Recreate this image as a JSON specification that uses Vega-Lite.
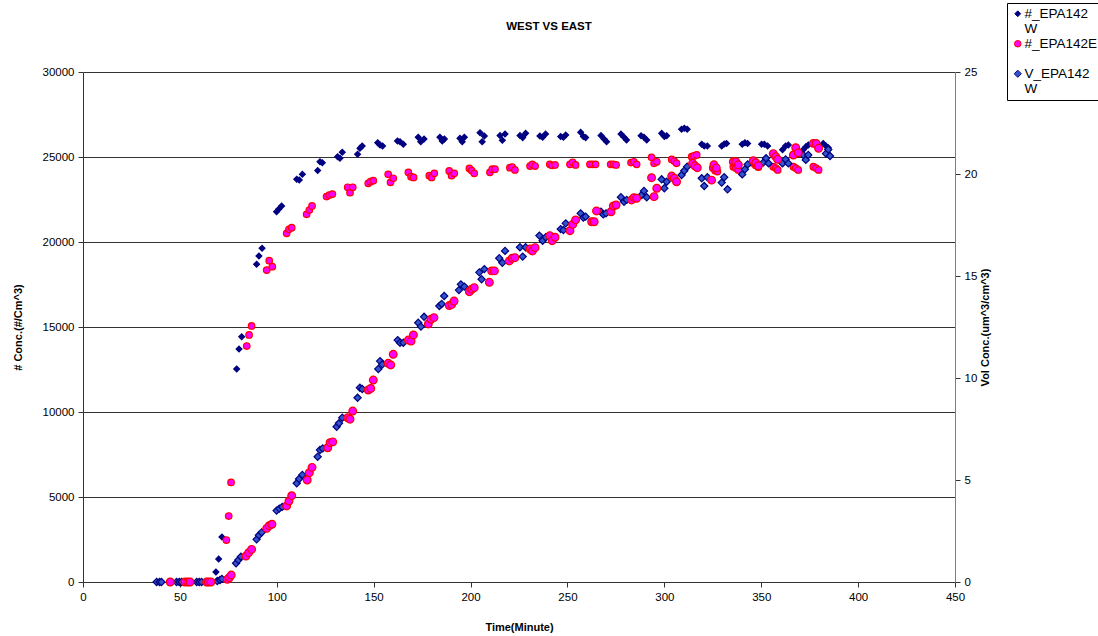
{
  "$schema": "https://vega.github.io/schema/vega-lite/v6.json",
  "autosize": {"type": "none"},
  "padding": {"left": 83, "top": 72, "right": 143, "bottom": 54},
  "width": 872,
  "height": 510,
  "background": "white",
  "title": {"text": "WEST VS EAST", "fontSize": 11.5, "fontWeight": "bold", "font": "Liberation Sans", "dx": 30, "offset": -30, "frame": "group", "color": "#000"},
  "config": {
    "view": {"stroke": null},
    "font": "Liberation Sans",
    "axis": {"labelFont": "Liberation Sans", "labelFontSize": 11.5, "labelColor": "#000", "labelFlush": false, "titleFont": "Liberation Sans", "titleFontSize": 11, "titleFontWeight": "bold", "titleColor": "#000", "domainColor": "#333", "tickColor": "#333", "tickSize": 5, "gridColor": "#333", "gridOpacity": 1},
    "legend": {"orient": "none", "legendX": 924, "legendY": -69, "title": null, "strokeColor": "#000", "strokeWidth": 1, "fillColor": "#fff", "padding": 4, "labelFont": "Liberation Sans", "labelFontSize": 13.5, "labelColor": "#000", "labelLimit": 0, "labelOffset": 0, "rowPadding": 0, "symbolStrokeWidth": 1, "symbolOpacity": 1}
  },
  "datasets": {
    "num": [
      {"t":38,"v":0,"s":"#_EPA142W"},{"t":39.5,"v":0,"s":"#_EPA142W"},{"t":40.5,"v":0,"s":"#_EPA142W"},
      {"t":48.3,"v":0,"s":"#_EPA142W"},{"t":49.7,"v":0,"s":"#_EPA142W"},{"t":50.9,"v":0,"s":"#_EPA142W"},
      {"t":58.7,"v":0,"s":"#_EPA142W"},{"t":60,"v":0,"s":"#_EPA142W"},{"t":61.2,"v":0,"s":"#_EPA142W"},
      {"t":68.6,"v":590,"s":"#_EPA142W"},{"t":70,"v":1350,"s":"#_EPA142W"},{"t":71.7,"v":2650,"s":"#_EPA142W"},
      {"t":79.3,"v":12530,"s":"#_EPA142W"},{"t":80.5,"v":13700,"s":"#_EPA142W"},{"t":81.9,"v":14430,"s":"#_EPA142W"},
      {"t":89.6,"v":18690,"s":"#_EPA142W"},{"t":90.8,"v":19180,"s":"#_EPA142W"},{"t":92.4,"v":19630,"s":"#_EPA142W"},
      {"t":99.9,"v":21780,"s":"#_EPA142W"},{"t":101.1,"v":21940,"s":"#_EPA142W"},{"t":102.5,"v":22120,"s":"#_EPA142W"},
      {"t":110.3,"v":23690,"s":"#_EPA142W"},{"t":111.6,"v":23650,"s":"#_EPA142W"},{"t":113.2,"v":23980,"s":"#_EPA142W"},
      {"t":121.1,"v":24200,"s":"#_EPA142W"},{"t":122.3,"v":24720,"s":"#_EPA142W"},{"t":123.5,"v":24660,"s":"#_EPA142W"},
      {"t":131.4,"v":25020,"s":"#_EPA142W"},{"t":132.6,"v":24920,"s":"#_EPA142W"},{"t":133.8,"v":25280,"s":"#_EPA142W"},
      {"t":141.7,"v":25160,"s":"#_EPA142W"},{"t":142.9,"v":25510,"s":"#_EPA142W"},{"t":144.1,"v":25650,"s":"#_EPA142W"},
      {"t":152.1,"v":25840,"s":"#_EPA142W"},{"t":153.3,"v":25710,"s":"#_EPA142W"},{"t":154.6,"v":25650,"s":"#_EPA142W"},
      {"t":162.3,"v":25940,"s":"#_EPA142W"},{"t":163.6,"v":25900,"s":"#_EPA142W"},{"t":165.3,"v":25750,"s":"#_EPA142W"},
      {"t":173,"v":26160,"s":"#_EPA142W"},{"t":174.3,"v":25900,"s":"#_EPA142W"},{"t":176,"v":26060,"s":"#_EPA142W"},
      {"t":184.2,"v":26160,"s":"#_EPA142W"},{"t":185.4,"v":25940,"s":"#_EPA142W"},{"t":186.5,"v":26060,"s":"#_EPA142W"},
      {"t":194.5,"v":26100,"s":"#_EPA142W"},{"t":195.7,"v":25900,"s":"#_EPA142W"},{"t":196.8,"v":26160,"s":"#_EPA142W"},
      {"t":204.9,"v":26430,"s":"#_EPA142W"},{"t":206,"v":25900,"s":"#_EPA142W"},{"t":207.1,"v":26240,"s":"#_EPA142W"},
      {"t":215.2,"v":26260,"s":"#_EPA142W"},{"t":216.4,"v":25980,"s":"#_EPA142W"},{"t":217.8,"v":26350,"s":"#_EPA142W"},
      {"t":225.5,"v":26260,"s":"#_EPA142W"},{"t":226.9,"v":26140,"s":"#_EPA142W"},{"t":228.4,"v":26390,"s":"#_EPA142W"},
      {"t":235.8,"v":26240,"s":"#_EPA142W"},{"t":237.2,"v":26160,"s":"#_EPA142W"},{"t":238.7,"v":26350,"s":"#_EPA142W"},
      {"t":246.5,"v":26200,"s":"#_EPA142W"},{"t":247.9,"v":26160,"s":"#_EPA142W"},{"t":249.1,"v":26290,"s":"#_EPA142W"},
      {"t":256.8,"v":26450,"s":"#_EPA142W"},{"t":258.2,"v":26200,"s":"#_EPA142W"},{"t":259.4,"v":26140,"s":"#_EPA142W"},
      {"t":267.3,"v":26260,"s":"#_EPA142W"},{"t":268.9,"v":26060,"s":"#_EPA142W"},{"t":270.2,"v":25900,"s":"#_EPA142W"},
      {"t":277.6,"v":26350,"s":"#_EPA142W"},{"t":279.2,"v":26160,"s":"#_EPA142W"},{"t":280.5,"v":26000,"s":"#_EPA142W"},
      {"t":288,"v":26250,"s":"#_EPA142W"},{"t":289.5,"v":26160,"s":"#_EPA142W"},{"t":290.9,"v":26000,"s":"#_EPA142W"},
      {"t":298.6,"v":26390,"s":"#_EPA142W"},{"t":300,"v":26200,"s":"#_EPA142W"},{"t":301.2,"v":26250,"s":"#_EPA142W"},
      {"t":308.9,"v":26630,"s":"#_EPA142W"},{"t":310.3,"v":26690,"s":"#_EPA142W"},{"t":311.8,"v":26630,"s":"#_EPA142W"},
      {"t":319.3,"v":25750,"s":"#_EPA142W"},{"t":320.6,"v":25650,"s":"#_EPA142W"},{"t":322.2,"v":25650,"s":"#_EPA142W"},
      {"t":329.6,"v":25650,"s":"#_EPA142W"},{"t":330.9,"v":25760,"s":"#_EPA142W"},{"t":332.1,"v":25800,"s":"#_EPA142W"},
      {"t":340.2,"v":25750,"s":"#_EPA142W"},{"t":341.6,"v":25840,"s":"#_EPA142W"},{"t":343,"v":25800,"s":"#_EPA142W"},
      {"t":350.2,"v":25750,"s":"#_EPA142W"},{"t":351.6,"v":25750,"s":"#_EPA142W"},{"t":353.3,"v":25650,"s":"#_EPA142W"},
      {"t":361,"v":25430,"s":"#_EPA142W"},{"t":362.6,"v":25650,"s":"#_EPA142W"},{"t":364,"v":25710,"s":"#_EPA142W"},
      {"t":371.7,"v":25430,"s":"#_EPA142W"},{"t":373,"v":25600,"s":"#_EPA142W"},{"t":374.3,"v":25710,"s":"#_EPA142W"},
      {"t":382,"v":25800,"s":"#_EPA142W"},{"t":383.4,"v":25650,"s":"#_EPA142W"},{"t":384.6,"v":25550,"s":"#_EPA142W"},

      {"t":45,"v":0,"s":"#_EPA142E"},
      {"t":52.6,"v":0,"s":"#_EPA142E"},{"t":54,"v":0,"s":"#_EPA142E"},{"t":55.2,"v":0,"s":"#_EPA142E"},
      {"t":63.8,"v":0,"s":"#_EPA142E"},{"t":64.7,"v":0,"s":"#_EPA142E"},{"t":66,"v":0,"s":"#_EPA142E"},
      {"t":74,"v":2470,"s":"#_EPA142E"},{"t":75.2,"v":3880,"s":"#_EPA142E"},{"t":76.4,"v":5860,"s":"#_EPA142E"},
      {"t":84.5,"v":13880,"s":"#_EPA142E"},{"t":85.7,"v":14530,"s":"#_EPA142E"},{"t":87,"v":15060,"s":"#_EPA142E"},
      {"t":94.8,"v":18350,"s":"#_EPA142E"},{"t":96.1,"v":18900,"s":"#_EPA142E"},{"t":97.7,"v":18550,"s":"#_EPA142E"},
      {"t":105.1,"v":20510,"s":"#_EPA142E"},{"t":106.3,"v":20750,"s":"#_EPA142E"},{"t":107.7,"v":20840,"s":"#_EPA142E"},
      {"t":115.4,"v":21630,"s":"#_EPA142E"},{"t":116.8,"v":21880,"s":"#_EPA142E"},{"t":118.2,"v":22120,"s":"#_EPA142E"},
      {"t":125.7,"v":22670,"s":"#_EPA142E"},{"t":127.1,"v":22760,"s":"#_EPA142E"},{"t":128.7,"v":22820,"s":"#_EPA142E"},
      {"t":136.6,"v":23220,"s":"#_EPA142E"},{"t":137.8,"v":22900,"s":"#_EPA142E"},{"t":139.2,"v":23220,"s":"#_EPA142E"},
      {"t":147.2,"v":23450,"s":"#_EPA142E"},{"t":148.4,"v":23550,"s":"#_EPA142E"},{"t":149.8,"v":23610,"s":"#_EPA142E"},
      {"t":157.5,"v":23980,"s":"#_EPA142E"},{"t":158.7,"v":23510,"s":"#_EPA142E"},{"t":160.1,"v":23750,"s":"#_EPA142E"},
      {"t":167.9,"v":24100,"s":"#_EPA142E"},{"t":169.3,"v":23840,"s":"#_EPA142E"},{"t":170.6,"v":23800,"s":"#_EPA142E"},
      {"t":178.7,"v":23900,"s":"#_EPA142E"},{"t":179.9,"v":23800,"s":"#_EPA142E"},{"t":181.3,"v":24040,"s":"#_EPA142E"},
      {"t":189,"v":24180,"s":"#_EPA142E"},{"t":190.2,"v":23900,"s":"#_EPA142E"},{"t":191.6,"v":24040,"s":"#_EPA142E"},
      {"t":199.4,"v":24330,"s":"#_EPA142E"},{"t":200.6,"v":24200,"s":"#_EPA142E"},{"t":201.9,"v":24040,"s":"#_EPA142E"},
      {"t":210,"v":24100,"s":"#_EPA142E"},{"t":211.2,"v":24280,"s":"#_EPA142E"},{"t":212.6,"v":24280,"s":"#_EPA142E"},
      {"t":220.3,"v":24370,"s":"#_EPA142E"},{"t":221.5,"v":24400,"s":"#_EPA142E"},{"t":222.9,"v":24240,"s":"#_EPA142E"},
      {"t":230.7,"v":24470,"s":"#_EPA142E"},{"t":231.9,"v":24570,"s":"#_EPA142E"},{"t":233.3,"v":24470,"s":"#_EPA142E"},
      {"t":240.9,"v":24570,"s":"#_EPA142E"},{"t":242.1,"v":24500,"s":"#_EPA142E"},{"t":243.6,"v":24530,"s":"#_EPA142E"},
      {"t":251.3,"v":24570,"s":"#_EPA142E"},{"t":252.7,"v":24690,"s":"#_EPA142E"},{"t":254.2,"v":24530,"s":"#_EPA142E"},
      {"t":261.6,"v":24570,"s":"#_EPA142E"},{"t":263,"v":24570,"s":"#_EPA142E"},{"t":264.5,"v":24570,"s":"#_EPA142E"},
      {"t":272.3,"v":24570,"s":"#_EPA142E"},{"t":273.7,"v":24570,"s":"#_EPA142E"},{"t":275.1,"v":24530,"s":"#_EPA142E"},
      {"t":282.8,"v":24670,"s":"#_EPA142E"},{"t":284.3,"v":24720,"s":"#_EPA142E"},{"t":285.7,"v":24570,"s":"#_EPA142E"},
      {"t":293.4,"v":24980,"s":"#_EPA142E"},{"t":294.7,"v":24630,"s":"#_EPA142E"},{"t":296.1,"v":24720,"s":"#_EPA142E"},
      {"t":303.8,"v":24860,"s":"#_EPA142E"},{"t":305.1,"v":24760,"s":"#_EPA142E"},{"t":306.3,"v":24630,"s":"#_EPA142E"},
      {"t":314.1,"v":25020,"s":"#_EPA142E"},{"t":315.3,"v":25060,"s":"#_EPA142E"},{"t":316.7,"v":25120,"s":"#_EPA142E"},
      {"t":325,"v":24350,"s":"#_EPA142E"},{"t":326.2,"v":24200,"s":"#_EPA142E"},{"t":327.4,"v":24140,"s":"#_EPA142E"},
      {"t":335.6,"v":24430,"s":"#_EPA142E"},{"t":336.9,"v":24350,"s":"#_EPA142E"},{"t":338.2,"v":24240,"s":"#_EPA142E"},
      {"t":345.9,"v":24630,"s":"#_EPA142E"},{"t":347.2,"v":24500,"s":"#_EPA142E"},{"t":348.5,"v":24400,"s":"#_EPA142E"},
      {"t":356.2,"v":24430,"s":"#_EPA142E"},{"t":357.5,"v":24350,"s":"#_EPA142E"},{"t":358.5,"v":24240,"s":"#_EPA142E"},
      {"t":366.6,"v":24430,"s":"#_EPA142E"},{"t":367.8,"v":24350,"s":"#_EPA142E"},{"t":369.1,"v":24240,"s":"#_EPA142E"},
      {"t":376.9,"v":24430,"s":"#_EPA142E"},{"t":378.3,"v":24350,"s":"#_EPA142E"},{"t":379.6,"v":24240,"s":"#_EPA142E"}
    ],
    "vol": [
      {"t":38,"v":0,"s":"V_EPA142W"},{"t":39.5,"v":0,"s":"V_EPA142W"},{"t":40.5,"v":0,"s":"V_EPA142W"},
      {"t":48.3,"v":0,"s":"V_EPA142W"},{"t":49.7,"v":0,"s":"V_EPA142W"},{"t":50.9,"v":0,"s":"V_EPA142W"},
      {"t":58.7,"v":0,"s":"V_EPA142W"},{"t":60,"v":0,"s":"V_EPA142W"},{"t":61.2,"v":0,"s":"V_EPA142W"},
      {"t":69.3,"v":0.05,"s":"V_EPA142W"},{"t":70.7,"v":0.1,"s":"V_EPA142W"},{"t":71.7,"v":0.15,"s":"V_EPA142W"},
      {"t":79,"v":0.92,"s":"V_EPA142W"},{"t":80.2,"v":1.08,"s":"V_EPA142W"},{"t":81.5,"v":1.24,"s":"V_EPA142W"},
      {"t":89.6,"v":2.09,"s":"V_EPA142W"},{"t":90.8,"v":2.29,"s":"V_EPA142W"},{"t":92.2,"v":2.43,"s":"V_EPA142W"},
      {"t":99.9,"v":3.5,"s":"V_EPA142W"},{"t":101.3,"v":3.6,"s":"V_EPA142W"},{"t":102.8,"v":3.68,"s":"V_EPA142W"},
      {"t":110.3,"v":4.84,"s":"V_EPA142W"},{"t":111.5,"v":5.05,"s":"V_EPA142W"},{"t":113.2,"v":5.25,"s":"V_EPA142W"},
      {"t":121.1,"v":6.14,"s":"V_EPA142W"},{"t":122.3,"v":6.47,"s":"V_EPA142W"},{"t":123.7,"v":6.55,"s":"V_EPA142W"},
      {"t":130.9,"v":7.61,"s":"V_EPA142W"},{"t":132.1,"v":7.78,"s":"V_EPA142W"},{"t":133.8,"v":8.05,"s":"V_EPA142W"},
      {"t":141.7,"v":9.03,"s":"V_EPA142W"},{"t":142.9,"v":9.52,"s":"V_EPA142W"},{"t":144.1,"v":9.46,"s":"V_EPA142W"},
      {"t":152.4,"v":10.44,"s":"V_EPA142W"},{"t":153.3,"v":10.83,"s":"V_EPA142W"},{"t":154.5,"v":10.67,"s":"V_EPA142W"},
      {"t":162.4,"v":11.86,"s":"V_EPA142W"},{"t":163.6,"v":11.73,"s":"V_EPA142W"},{"t":165.3,"v":11.73,"s":"V_EPA142W"},
      {"t":173,"v":12.71,"s":"V_EPA142W"},{"t":174.4,"v":12.52,"s":"V_EPA142W"},{"t":176,"v":13.0,"s":"V_EPA142W"},
      {"t":183.9,"v":13.53,"s":"V_EPA142W"},{"t":185.1,"v":13.63,"s":"V_EPA142W"},{"t":186.4,"v":14.02,"s":"V_EPA142W"},
      {"t":194,"v":14.31,"s":"V_EPA142W"},{"t":195,"v":14.59,"s":"V_EPA142W"},{"t":196.8,"v":14.48,"s":"V_EPA142W"},
      {"t":204.5,"v":15.18,"s":"V_EPA142W"},{"t":205.7,"v":14.84,"s":"V_EPA142W"},{"t":207.1,"v":15.34,"s":"V_EPA142W"},
      {"t":214.8,"v":15.87,"s":"V_EPA142W"},{"t":216.4,"v":15.65,"s":"V_EPA142W"},{"t":217.8,"v":16.23,"s":"V_EPA142W"},
      {"t":225.5,"v":16.41,"s":"V_EPA142W"},{"t":226.9,"v":15.95,"s":"V_EPA142W"},{"t":228.4,"v":16.41,"s":"V_EPA142W"},
      {"t":235.5,"v":16.98,"s":"V_EPA142W"},{"t":237.2,"v":16.73,"s":"V_EPA142W"},{"t":238.8,"v":16.9,"s":"V_EPA142W"},
      {"t":246.5,"v":17.3,"s":"V_EPA142W"},{"t":247.9,"v":17.25,"s":"V_EPA142W"},{"t":249.1,"v":17.58,"s":"V_EPA142W"},
      {"t":256.8,"v":18.07,"s":"V_EPA142W"},{"t":258.2,"v":17.86,"s":"V_EPA142W"},{"t":259.4,"v":17.91,"s":"V_EPA142W"},
      {"t":267.3,"v":18.15,"s":"V_EPA142W"},{"t":268.5,"v":18.02,"s":"V_EPA142W"},{"t":269.9,"v":18.07,"s":"V_EPA142W"},
      {"t":277.6,"v":18.86,"s":"V_EPA142W"},{"t":279.2,"v":18.64,"s":"V_EPA142W"},{"t":280.6,"v":18.73,"s":"V_EPA142W"},
      {"t":288.3,"v":18.97,"s":"V_EPA142W"},{"t":289.5,"v":19.17,"s":"V_EPA142W"},{"t":290.9,"v":18.86,"s":"V_EPA142W"},
      {"t":298.6,"v":19.74,"s":"V_EPA142W"},{"t":300,"v":19.3,"s":"V_EPA142W"},{"t":301.2,"v":19.62,"s":"V_EPA142W"},
      {"t":308.9,"v":19.95,"s":"V_EPA142W"},{"t":310.3,"v":20.16,"s":"V_EPA142W"},{"t":311.8,"v":20.36,"s":"V_EPA142W"},
      {"t":319.3,"v":19.79,"s":"V_EPA142W"},{"t":320.6,"v":19.41,"s":"V_EPA142W"},{"t":322.2,"v":19.84,"s":"V_EPA142W"},
      {"t":329.6,"v":19.58,"s":"V_EPA142W"},{"t":330.9,"v":19.84,"s":"V_EPA142W"},{"t":332.6,"v":19.25,"s":"V_EPA142W"},
      {"t":340.2,"v":19.98,"s":"V_EPA142W"},{"t":341.6,"v":20.23,"s":"V_EPA142W"},{"t":343,"v":20.47,"s":"V_EPA142W"},
      {"t":351,"v":20.56,"s":"V_EPA142W"},{"t":352.5,"v":20.77,"s":"V_EPA142W"},{"t":353.8,"v":20.52,"s":"V_EPA142W"},
      {"t":361,"v":20.52,"s":"V_EPA142W"},{"t":362.6,"v":20.72,"s":"V_EPA142W"},{"t":364,"v":20.52,"s":"V_EPA142W"},
      {"t":371.7,"v":20.93,"s":"V_EPA142W"},{"t":373,"v":20.69,"s":"V_EPA142W"},{"t":374.3,"v":20.93,"s":"V_EPA142W"},
      {"t":383.4,"v":21.0,"s":"V_EPA142W"},{"t":384.6,"v":21.2,"s":"V_EPA142W"},{"t":385.5,"v":20.88,"s":"V_EPA142W"},

      {"t":45,"v":0,"s":"V_EPA142E"},
      {"t":52.6,"v":0,"s":"V_EPA142E"},{"t":54,"v":0,"s":"V_EPA142E"},{"t":55.2,"v":0,"s":"V_EPA142E"},
      {"t":63.8,"v":0,"s":"V_EPA142E"},{"t":64.7,"v":0,"s":"V_EPA142E"},{"t":66,"v":0,"s":"V_EPA142E"},
      {"t":74.5,"v":0.13,"s":"V_EPA142E"},{"t":75.5,"v":0.21,"s":"V_EPA142E"},{"t":76.5,"v":0.34,"s":"V_EPA142E"},
      {"t":84.1,"v":1.27,"s":"V_EPA142E"},{"t":85.5,"v":1.44,"s":"V_EPA142E"},{"t":87,"v":1.6,"s":"V_EPA142E"},
      {"t":94.8,"v":2.63,"s":"V_EPA142E"},{"t":96.1,"v":2.76,"s":"V_EPA142E"},{"t":97.5,"v":2.83,"s":"V_EPA142E"},
      {"t":105.1,"v":3.73,"s":"V_EPA142E"},{"t":106.3,"v":3.97,"s":"V_EPA142E"},{"t":107.7,"v":4.23,"s":"V_EPA142E"},
      {"t":115.7,"v":5.0,"s":"V_EPA142E"},{"t":116.8,"v":5.36,"s":"V_EPA142E"},{"t":118.2,"v":5.62,"s":"V_EPA142E"},
      {"t":126.3,"v":6.58,"s":"V_EPA142E"},{"t":127.5,"v":6.83,"s":"V_EPA142E"},{"t":128.9,"v":6.87,"s":"V_EPA142E"},
      {"t":136.6,"v":8.05,"s":"V_EPA142E"},{"t":137.8,"v":7.98,"s":"V_EPA142E"},{"t":139.2,"v":8.38,"s":"V_EPA142E"},
      {"t":147.2,"v":9.41,"s":"V_EPA142E"},{"t":148.5,"v":9.49,"s":"V_EPA142E"},{"t":149.8,"v":9.9,"s":"V_EPA142E"},
      {"t":157.5,"v":10.72,"s":"V_EPA142E"},{"t":158.8,"v":10.64,"s":"V_EPA142E"},{"t":160.1,"v":11.16,"s":"V_EPA142E"},
      {"t":167.9,"v":11.86,"s":"V_EPA142E"},{"t":169.3,"v":11.81,"s":"V_EPA142E"},{"t":170.5,"v":12.11,"s":"V_EPA142E"},
      {"t":178.2,"v":12.65,"s":"V_EPA142E"},{"t":179.6,"v":12.88,"s":"V_EPA142E"},{"t":181.1,"v":12.96,"s":"V_EPA142E"},
      {"t":189,"v":13.55,"s":"V_EPA142E"},{"t":190.3,"v":13.61,"s":"V_EPA142E"},{"t":191.5,"v":13.77,"s":"V_EPA142E"},
      {"t":199.4,"v":14.23,"s":"V_EPA142E"},{"t":200.6,"v":14.35,"s":"V_EPA142E"},{"t":201.9,"v":14.43,"s":"V_EPA142E"},
      {"t":209.7,"v":14.69,"s":"V_EPA142E"},{"t":210.9,"v":15.25,"s":"V_EPA142E"},{"t":212.3,"v":15.25,"s":"V_EPA142E"},
      {"t":220,"v":15.74,"s":"V_EPA142E"},{"t":221.5,"v":15.87,"s":"V_EPA142E"},{"t":222.9,"v":15.9,"s":"V_EPA142E"},
      {"t":230.7,"v":16.32,"s":"V_EPA142E"},{"t":231.9,"v":16.23,"s":"V_EPA142E"},{"t":233.3,"v":16.39,"s":"V_EPA142E"},
      {"t":240.9,"v":16.98,"s":"V_EPA142E"},{"t":242.1,"v":16.73,"s":"V_EPA142E"},{"t":243.6,"v":16.9,"s":"V_EPA142E"},
      {"t":251.3,"v":17.22,"s":"V_EPA142E"},{"t":252.7,"v":17.53,"s":"V_EPA142E"},{"t":254.2,"v":17.75,"s":"V_EPA142E"},
      {"t":262.5,"v":17.66,"s":"V_EPA142E"},{"t":263.8,"v":17.66,"s":"V_EPA142E"},{"t":265,"v":18.19,"s":"V_EPA142E"},
      {"t":272.5,"v":18.15,"s":"V_EPA142E"},{"t":273.7,"v":18.43,"s":"V_EPA142E"},{"t":275.1,"v":18.48,"s":"V_EPA142E"},
      {"t":283.1,"v":18.73,"s":"V_EPA142E"},{"t":284.3,"v":18.84,"s":"V_EPA142E"},{"t":285.7,"v":18.81,"s":"V_EPA142E"},
      {"t":293.4,"v":19.82,"s":"V_EPA142E"},{"t":294.7,"v":18.89,"s":"V_EPA142E"},{"t":296.1,"v":19.3,"s":"V_EPA142E"},
      {"t":303.8,"v":19.9,"s":"V_EPA142E"},{"t":305.1,"v":19.79,"s":"V_EPA142E"},{"t":306.3,"v":19.62,"s":"V_EPA142E"},
      {"t":314.6,"v":20.52,"s":"V_EPA142E"},{"t":315.8,"v":20.4,"s":"V_EPA142E"},{"t":317,"v":20.31,"s":"V_EPA142E"},
      {"t":324.4,"v":19.7,"s":"V_EPA142E"},{"t":325.6,"v":20.45,"s":"V_EPA142E"},{"t":326.8,"v":20.3,"s":"V_EPA142E"},
      {"t":335.6,"v":20.6,"s":"V_EPA142E"},{"t":336.9,"v":20.6,"s":"V_EPA142E"},{"t":338.2,"v":20.45,"s":"V_EPA142E"},
      {"t":345.9,"v":20.65,"s":"V_EPA142E"},{"t":347.2,"v":20.55,"s":"V_EPA142E"},{"t":348.5,"v":20.4,"s":"V_EPA142E"},
      {"t":356.2,"v":21.0,"s":"V_EPA142E"},{"t":357.5,"v":20.85,"s":"V_EPA142E"},{"t":358.5,"v":20.72,"s":"V_EPA142E"},
      {"t":366.6,"v":20.93,"s":"V_EPA142E"},{"t":367.8,"v":21.29,"s":"V_EPA142E"},{"t":369.1,"v":21.04,"s":"V_EPA142E"},
      {"t":376.9,"v":21.5,"s":"V_EPA142E"},{"t":378.3,"v":21.5,"s":"V_EPA142E"},{"t":379.6,"v":21.26,"s":"V_EPA142E"}
    ]
  },
  "encoding": {
    "x": {"field": "t", "type": "quantitative", "title": "Time(Minute)",
      "scale": {"domain": [0, 450], "nice": false},
      "axis": {"values": [0,50,100,150,200,250,300,350,400,450], "grid": false, "titlePadding": 19, "labelPadding": 4}}
  },
  "layer": [
    {
      "data": {"name": "num"},
      "mark": {"type": "point", "filled": true, "strokeWidth": 1.2, "opacity": 1},
      "encoding": {
        "y": {"field": "v", "type": "quantitative", "title": "# Conc.(#/Cm^3)",
          "scale": {"domain": [0, 30000], "nice": false},
          "axis": {"orient": "left", "values": [0,5000,10000,15000,20000,25000,30000], "format": "d", "grid": true, "titlePadding": 19, "labelPadding": 4}},
        "fill": {"field": "s", "type": "nominal", "scale": {"domain": ["#_EPA142W","#_EPA142E","V_EPA142W","V_EPA142E"], "range": ["#000080","#FF00FF","#3355CC","#FF00FF"]},
          "legend": {"values": ["#_EPA142W","#_EPA142E","V_EPA142W"], "labelExpr": "datum.label == '#_EPA142E' ? [datum.label, ' '] : [slice(datum.label, 0, 8), slice(datum.label, 8)]"}},
        "stroke": {"field": "s", "type": "nominal", "scale": {"domain": ["#_EPA142W","#_EPA142E","V_EPA142W","V_EPA142E"], "range": ["#000080","#FF0000","#000080","#FF0000"]},
          "legend": {"values": ["#_EPA142W","#_EPA142E","V_EPA142W"], "labelExpr": "datum.label == '#_EPA142E' ? [datum.label, ' '] : [slice(datum.label, 0, 8), slice(datum.label, 8)]"}},
        "shape": {"field": "s", "type": "nominal", "scale": {"domain": ["#_EPA142W","#_EPA142E","V_EPA142W","V_EPA142E"], "range": ["diamond","circle","diamond","circle"]},
          "legend": {"values": ["#_EPA142W","#_EPA142E","V_EPA142W"], "labelExpr": "datum.label == '#_EPA142E' ? [datum.label, ' '] : [slice(datum.label, 0, 8), slice(datum.label, 8)]"}},
        "size": {"field": "s", "type": "nominal", "scale": {"domain": ["#_EPA142W","#_EPA142E","V_EPA142W","V_EPA142E"], "range": [34,60,32,42]},
          "legend": {"values": ["#_EPA142W","#_EPA142E","V_EPA142W"], "labelExpr": "datum.label == '#_EPA142E' ? [datum.label, ' '] : [slice(datum.label, 0, 8), slice(datum.label, 8)]"}}
      }
    },
    {
      "data": {"name": "vol"},
      "mark": {"type": "point", "filled": true, "strokeWidth": 1.2, "opacity": 1},
      "encoding": {
        "y": {"field": "v", "type": "quantitative", "title": "Vol Conc.(um^3/cm^3)",
          "scale": {"domain": [0, 25], "nice": false},
          "axis": {"orient": "right", "values": [0,5,10,15,20,25], "format": "d", "grid": false, "titleAngle": -90, "titlePadding": 14, "labelPadding": 4, "domainColor": "#808080"}},
        "fill": {"field": "s", "type": "nominal",
          "legend": {"values": ["#_EPA142W","#_EPA142E","V_EPA142W"], "labelExpr": "datum.label == '#_EPA142E' ? [datum.label, ' '] : [slice(datum.label, 0, 8), slice(datum.label, 8)]"}},
        "stroke": {"field": "s", "type": "nominal",
          "legend": {"values": ["#_EPA142W","#_EPA142E","V_EPA142W"], "labelExpr": "datum.label == '#_EPA142E' ? [datum.label, ' '] : [slice(datum.label, 0, 8), slice(datum.label, 8)]"}},
        "shape": {"field": "s", "type": "nominal",
          "legend": {"values": ["#_EPA142W","#_EPA142E","V_EPA142W"], "labelExpr": "datum.label == '#_EPA142E' ? [datum.label, ' '] : [slice(datum.label, 0, 8), slice(datum.label, 8)]"}},
        "size": {"field": "s", "type": "nominal",
          "legend": {"values": ["#_EPA142W","#_EPA142E","V_EPA142W"], "labelExpr": "datum.label == '#_EPA142E' ? [datum.label, ' '] : [slice(datum.label, 0, 8), slice(datum.label, 8)]"}}
      }
    }
  ],
  "resolve": {"scale": {"y": "independent"}, "axis": {"y": "independent"}}
}
